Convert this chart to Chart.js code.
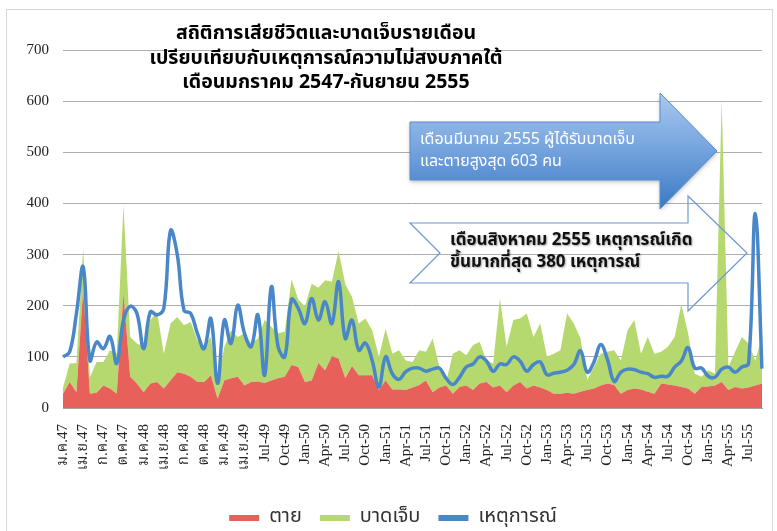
<!DOCTYPE html>
<html>
<head>
<meta charset="utf-8">
<script src="https://cdn.jsdelivr.net/npm/chart.js@4.4.1/dist/chart.umd.min.js"></script>
<style>
  html, body { margin: 0; padding: 0; background: #fff; }
  #wrap { position: relative; width: 777px; height: 531px; overflow: hidden; }
  #frame { position: absolute; left: 6px; top: 9px; width: 767px; height: 560px; border: 1px solid #d6d6d6; box-sizing: border-box; }
  #c { position: absolute; left: 0; top: 0; }
</style>
</head>
<body>
<div id="wrap">
  <div id="frame"></div>
  <canvas id="c" width="777" height="531"></canvas>
</div>
<script>
// monthly categories, Jan 2547 .. Sep 2555
const months = [
  'ม.ค.47','ก.พ.47','มี.ค.47','เม.ย.47','พ.ค.47','มิ.ย.47','ก.ค.47','ส.ค.47','ก.ย.47','ต.ค.47','พ.ย.47','ธ.ค.47',
  'ม.ค.48','ก.พ.48','มี.ค.48','เม.ย.48','พ.ค.48','มิ.ย.48','ก.ค.48','ส.ค.48','ก.ย.48','ต.ค.48','พ.ย.48','ธ.ค.48',
  'ม.ค.49','ก.พ.49','มี.ค.49','เม.ย.49','พ.ค.49','มิ.ย.49','Jul-49','Aug-49','Sep-49','Oct-49','Nov-49','Dec-49',
  'Jan-50','Feb-50','Mar-50','Apr-50','May-50','Jun-50','Jul-50','Aug-50','Sep-50','Oct-50','Nov-50','Dec-50',
  'Jan-51','Feb-51','Mar-51','Apr-51','May-51','Jun-51','Jul-51','Aug-51','Sep-51','Oct-51','Nov-51','Dec-51',
  'Jan-52','Feb-52','Mar-52','Apr-52','May-52','Jun-52','Jul-52','Aug-52','Sep-52','Oct-52','Nov-52','Dec-52',
  'Jan-53','Feb-53','Mar-53','Apr-53','May-53','Jun-53','Jul-53','Aug-53','Sep-53','Oct-53','Nov-53','Dec-53',
  'Jan-54','Feb-54','Mar-54','Apr-54','May-54','Jun-54','Jul-54','Aug-54','Sep-54','Oct-54','Nov-54','Dec-54',
  'Jan-55','Feb-55','Mar-55','Apr-55','May-55','Jun-55','Jul-55','Aug-55','Sep-55'
];

// ตาย (deaths)
const deaths = [
  28, 51, 31, 231, 28, 30, 44, 38, 28, 224, 61, 48,
  31, 48, 51, 38, 54, 70, 67, 61, 51, 51, 64, 18,
  54, 58, 61, 44, 51, 52, 49, 54, 58, 61, 84, 80,
  51, 54, 88, 74, 101, 97, 58, 82, 64, 64, 64, 35,
  54, 36, 36, 35, 40, 45, 54, 31, 40, 44, 28, 41,
  44, 35, 48, 51, 40, 44, 31, 44, 51, 38, 44, 40,
  35, 28, 28, 30, 28, 32, 35, 38, 44, 48, 45, 28,
  35, 38, 36, 32, 28, 48, 46, 44, 41, 38, 28, 41,
  42, 44, 51, 35, 41, 38, 40, 44, 48
];

// บาดเจ็บ (injured)
const injured = [
  12, 36, 57, 81, 32, 60, 46, 75, 78, 173, 78, 78,
  89, 124, 137, 68, 111, 108, 95, 107, 81, 71, 75, 23,
  66, 94, 78, 102, 75, 84, 123, 105, 88, 88, 168, 132,
  148, 189, 147, 176, 146, 210, 184, 135, 101, 111, 88, 65,
  101, 70, 77, 58, 50, 68, 56, 105, 40, 7, 78, 72,
  59, 88, 81, 42, 47, 170, 89, 128, 124, 147, 95, 125,
  65, 78, 85, 155, 137, 104, 20, 42, 62, 62, 68, 65,
  117, 134, 70, 107, 78, 62, 74, 95, 162, 108, 39, 20,
  32, 23, 552, 45, 69, 101, 86, 49, 91
];

// เหตุการณ์ (incidents)
const incidents = [
  100, 110, 185, 276, 93, 129, 116, 140, 87, 172, 199, 185,
  116, 188, 182, 195, 347, 300, 191, 185, 146, 116, 175, 48,
  172, 126, 201, 146, 120, 182, 64, 237, 120, 100, 212, 195,
  165, 214, 172, 208, 165, 247, 136, 172, 113, 127, 93, 41,
  100, 67, 56, 71, 78, 78, 72, 76, 78, 58, 46, 60,
  80, 86, 100, 92, 72, 86, 85, 100, 92, 72, 85, 90,
  65, 68, 70, 74, 85, 112, 70, 90, 124, 95, 52, 70,
  76, 75, 70, 67, 60, 62, 62, 80, 92, 118, 78, 78,
  62, 60, 76, 80, 70, 80, 87, 380, 77
];

const yTicks = [0, 100, 200, 300, 400, 500, 600, 700];

const titleLines = [
  'สถิติการเสียชีวิตและบาดเจ็บรายเดือน',
  'เปรียบเทียบกับเหตุการณ์ความไม่สงบภาคใต้',
  'เดือนมกราคม 2547-กันยายน 2555'
];
const noteMarch = ['เดือนมีนาคม 2555 ผู้ได้รับบาดเจ็บ', 'และตายสูงสุด 603 คน'];
const noteAug = ['เดือนสิงหาคม 2555 เหตุการณ์เกิด', 'ขึ้นมากที่สุด 380 เหตุการณ์'];

const THAI = "'Noto Sans Thai', 'Noto Sans', 'DejaVu Sans', sans-serif";
const SERIF = "'Liberation Serif', 'Noto Serif Thai', 'Noto Sans Thai', serif";

const RED = '#e8605a';
const GREEN = '#b5d96e';
const BLUE = '#4a87c8';

// title + callout arrows drawn over the plot
const callouts = {
  id: 'callouts',
  afterDraw(chart) {
    const ctx = chart.ctx;
    ctx.save();

    // title
    ctx.fillStyle = '#000';
    ctx.textAlign = 'center';
    ctx.textBaseline = 'middle';
    ctx.font = 'bold 19.5px ' + THAI;
    [35, 60, 84].forEach((y, i) => ctx.fillText(titleLines[i], 326, y));

    // filled blue arrow
    ctx.beginPath();
    ctx.moveTo(410, 122);
    ctx.lineTo(660, 122);
    ctx.lineTo(660, 93);
    ctx.lineTo(717, 151);
    ctx.lineTo(660, 209);
    ctx.lineTo(660, 180);
    ctx.lineTo(410, 180);
    ctx.closePath();
    const g = ctx.createLinearGradient(0, 95, 0, 208);
    g.addColorStop(0, '#a7c7ee');
    g.addColorStop(0.45, '#78a6df');
    g.addColorStop(1, '#3a7ac5');
    ctx.shadowColor = 'rgba(0,0,0,0.25)';
    ctx.shadowBlur = 4;
    ctx.shadowOffsetY = 2;
    ctx.fillStyle = g;
    ctx.fill();
    ctx.shadowColor = 'transparent';
    ctx.strokeStyle = '#5a8ccc';
    ctx.lineWidth = 1;
    ctx.stroke();

    ctx.textAlign = 'left';
    ctx.fillStyle = '#fff';
    ctx.font = '16px ' + THAI;
    ctx.fillText(noteMarch[0], 420, 141);
    ctx.fillText(noteMarch[1], 420, 163);

    // outlined notched arrow
    ctx.beginPath();
    ctx.moveTo(410, 223);
    ctx.lineTo(688, 223);
    ctx.lineTo(688, 196);
    ctx.lineTo(747, 253);
    ctx.lineTo(688, 311);
    ctx.lineTo(688, 283);
    ctx.lineTo(410, 283);
    ctx.lineTo(440, 253);
    ctx.closePath();
    ctx.strokeStyle = '#6b99d4';
    ctx.lineWidth = 1.2;
    ctx.stroke();

    ctx.fillStyle = '#111';
    ctx.font = 'bold 17px ' + THAI;
    ctx.shadowColor = 'rgba(0,0,0,0.35)';
    ctx.shadowBlur = 2;
    ctx.shadowOffsetX = 1;
    ctx.shadowOffsetY = 1;
    ctx.fillText(noteAug[0], 450, 242);
    ctx.fillText(noteAug[1], 450, 264);

    ctx.restore();
  }
};

new Chart(document.getElementById('c'), {
  type: 'line',
  data: {
    labels: months,
    datasets: [
      { label: 'ตาย', data: deaths, stack: 'people', fill: 'origin',
        backgroundColor: RED, borderColor: 'transparent', borderWidth: 0,
        pointRadius: 0, tension: 0, order: 2 },
      { label: 'บาดเจ็บ', data: injured, stack: 'people', fill: '-1',
        backgroundColor: GREEN, borderColor: 'transparent', borderWidth: 0,
        pointRadius: 0, tension: 0, order: 2 },
      { label: 'เหตุการณ์', data: incidents, stack: 'events', fill: false,
        borderColor: BLUE, backgroundColor: BLUE, borderWidth: 3.5,
        pointRadius: 0, tension: 0.4, order: 1 }
    ]
  },
  options: {
    responsive: false,
    animation: false,
    devicePixelRatio: 1,
    layout: { padding: { top: 50, right: 15, left: 24, bottom: -7 } },
    scales: {
      x: {
        grid: { display: false },
        border: { color: '#a6a6a6' },
        ticks: {
          autoSkip: false, minRotation: 90, maxRotation: 90,
          color: '#222', font: { family: SERIF, size: 15 }, padding: 8,
          callback(v, i) { return i % 3 === 0 ? this.getLabelForValue(v) : ''; }
        },
        afterFit(s) { s.height = 82; s.paddingLeft = 0; s.paddingRight = 0; }
      },
      y: {
        stacked: true, min: 0, max: 700,
        afterBuildTicks(s) { s.ticks = yTicks.map(v => ({ value: v })); },
        ticks: { color: '#222', font: { family: SERIF, size: 15 }, padding: 14 },
        grid: { color: '#adadad', drawTicks: false },
        border: { display: false },
        afterFit(s) { s.width = 39; }
      }
    },
    plugins: {
      tooltip: { enabled: false },
      legend: {
        position: 'bottom',
        labels: {
          boxWidth: 30, boxHeight: 6, padding: 18,
          color: '#333', font: { family: THAI, size: 20 },
          generateLabels(chart) {
            const cols = [RED, GREEN, BLUE];
            return chart.data.datasets.map((ds, i) => ({
              text: ds.label, fillStyle: cols[i], strokeStyle: cols[i],
              lineWidth: 0, hidden: false, datasetIndex: i, fontColor: '#333'
            }));
          }
        }
      }
    }
  },
  plugins: [callouts]
});
</script>
</body>
</html>
